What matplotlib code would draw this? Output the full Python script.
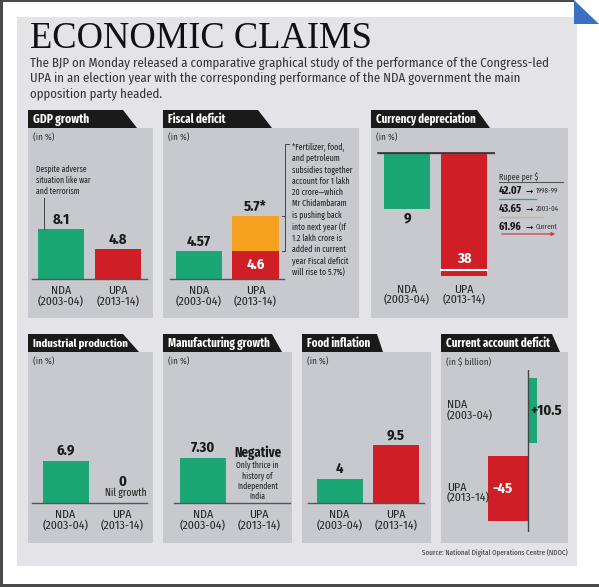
import numpy as np
import matplotlib.pyplot as plt
from matplotlib.patches import Rectangle, Polygon
from matplotlib.transforms import blended_transform_factory

plt.rcParams['font.family'] = ['Fira Sans Condensed', 'Roboto Condensed',
                               'PT Sans Narrow', 'DejaVu Sans']
NARROW = ['Fira Sans Extra Condensed', 'Asap Condensed', 'PT Sans Narrow',
          'Archivo Narrow', 'Barlow Condensed', 'Fira Sans Condensed',
          'DejaVu Sans']

# ---- data ----
parties = ['NDA', 'UPA']
years = ['(2003-04)', '(2013-14)']
gdp = [8.1, 4.8]
gdp_labels = ['8.1', '4.8']
fiscal = [4.57, 4.6]
fiscal_extra = [0, 5.7]          # subsidies pushed to next year
fiscal_labels = ['4.57', '4.6', '5.7*']
currency = [9, 38]
currency_labels = ['9', '38']
industrial = [6.9, 0]
industrial_labels = ['6.9', '0']
manufacturing = [7.30, np.nan]   # UPA: negative, not drawn
manufacturing_labels = ['7.30', 'Negative']
food = [4, 9.5]
food_labels = ['4', '9.5']
cad = [10.5, -45]
cad_labels = ['+10.5', '-45']
rupee_rates = ['42.07', '43.65', '61.96']
rupee_years = ['1998-99', '2003-04', 'Current']

GREEN = '#1ba676'
RED = '#d01e27'
ORANGE = '#f6a21e'
PANEL = '#c8c9cf'
OUTER = '#e3e3e8'
INK = '#1a1a1a'

W, H = 599, 587
fig = plt.figure(figsize=(W / 100, H / 100), dpi=100)
fig.patch.set_facecolor('white')
renderer = fig.canvas.get_renderer()


def fit(t, width):
    """scale a text so its widest line is `width` pixels, keeping line pitch"""
    bb = t.get_window_extent(renderer=renderer)
    k = width / bb.width
    ls = getattr(t, '_linespacing', 1.2)
    t.set_fontsize(t.get_fontsize() * k)
    t.set_linespacing(ls / k)
    return t


bg = fig.add_axes([0, 0, 1, 1])
bg.set_xlim(0, W)
bg.set_ylim(H, 0)
bg.axis('off')

# frame and background
bg.add_patch(Rectangle((17, 17), 560, 549, color=OUTER, lw=0))
bg.add_patch(Rectangle((0, 0), 2.5, H, color='#4a4a4a', lw=0))
bg.add_patch(Rectangle((0, 0), 574, 1.5, color='#4a4a4a', lw=0))
bg.add_patch(Rectangle((0, 584), W, 3, color='#4a4a4a', lw=0))
bg.add_patch(Polygon([(574, 0), (574, 24), (599, 24)], closed=True,
                     color='#3b6fc1', lw=0))

bg.text(30, 48.5, 'ECONOMIC CLAIMS', family='Liberation Serif', fontsize=26.3,
        color='#111', va='baseline')
bg.text(30, 57, 'The BJP on Monday released a comparative graphical study of the '
        'performance of the Congress-led\nUPA in an election year with the '
        'corresponding performance of the NDA government the main\n'
        'opposition party headed.', fontsize=9.2, color='#333', va='top',
        linespacing=1.22)


def panel(x0, x1, y0, y1, title, tr_top, tr_bot, tw, unit='(in %)'):
    bg.add_patch(Rectangle((x0, y0), x1 - x0, y1 - y0, color=PANEL, lw=0))
    bg.add_patch(Polygon([(x0, y0 - 18), (tr_top, y0 - 18), (tr_bot, y0),
                          (x0, y0)], closed=True, color=INK, lw=0))
    t = bg.text(x0 + 5, y0 - 8.5, title, color='white', fontsize=10,
                fontweight='bold', va='center', family=NARROW)
    fit(t, tw)
    bg.text(x0 + 5, y0 + 10, unit, color='#333', fontsize=6.5, va='center')


panel(28, 153, 128, 318, 'GDP growth', 123, 137, 56)
panel(163, 359, 128, 318, 'Fiscal deficit', 258, 272, 58)
panel(371, 568, 128, 318, 'Currency depreciation', 477, 490, 100)
panel(28, 153, 352, 543, 'Industrial production', 123, 139, 95)
panel(163, 292, 352, 543, 'Manufacturing growth', 272, 282, 102)
panel(302, 431, 352, 543, 'Food inflation', 377, 383, 64)
panel(441, 568, 352, 543, 'Current account deficit', 552, 560, 105,
      unit='(in $ billion)')

fit(bg.text(568, 553, 'Source: National Digital Operations Centre (NDOC)',
            fontsize=6, color='#333', ha='right', va='center', family=NARROW), 146)


def px_axes(x0, y0, x1, y1):
    ax = fig.add_axes([x0 / W, 1 - y1 / H, (x1 - x0) / W, (y1 - y0) / H])
    ax.patch.set_alpha(0)
    for s in ax.spines.values():
        s.set_visible(False)
    ax.set_yticks([])
    return ax


def bar_panel(x0, x1, base_y, top_y, centers, values, colors, ppu=6.15,
              inverted=False, pad=5):
    ax = px_axes(x0, top_y, x1, base_y)
    sp = centers[1] - centers[0]
    ax.set_xlim((x0 - centers[0]) / sp, 1 + (x1 - centers[1]) / sp)
    if inverted:
        ax.set_ylim((base_y - top_y) / ppu, 0)
    else:
        ax.set_ylim(0, (base_y - top_y) / ppu)
    w = 46 / sp
    ax.bar(range(2), values, width=w, color=colors)
    ax.axhline(0, color='#555', lw=1, clip_on=False)
    ax.set_xticks(range(2), [f'{p}\n{y}' for p, y in zip(parties, years)])
    ax.tick_params(length=0, pad=pad, labelsize=8.5, labelcolor='#222')
    for lbl in ax.get_xticklabels():
        lbl.set_linespacing(1.0)
    return ax, w


def value_labels(ax, values, texts, dy=7, color=INK):
    for i, (v, t) in enumerate(zip(values, texts)):
        ax.annotate(t, (i, v), xytext=(0, dy), textcoords='offset points',
                    ha='center', va='center', fontsize=10.5, fontweight='bold',
                    color=color)


# GDP growth
ax, w = bar_panel(32, 147, 279, 148, [61, 118], gdp, [GREEN, RED])
value_labels(ax, gdp, gdp_labels)
fit(ax.text(-0.44, (279 - 180) / 6.15, 'Despite adverse\nsituation like war\nand terrorism',
            fontsize=6.6, color='#222', va='center', ha='left', linespacing=1.2,
            family=NARROW), 54)
ax.plot([-0.3, -0.3], [gdp[0], (279 - 198) / 6.15], color='#444', lw=0.7)

# Fiscal deficit
ax, w = bar_panel(170, 284, 279, 148, [199, 255.5], fiscal, [GREEN, RED], ppu=6.1)
ax.bar(range(2), fiscal_extra, bottom=fiscal, width=w, color=ORANGE)
ax.annotate(fiscal_labels[0], (0, fiscal[0]), xytext=(0, 7),
            textcoords='offset points', ha='center', va='center', fontsize=10.5,
            fontweight='bold', color=INK)
ax.annotate(fiscal_labels[1], (1, fiscal[1] / 2), ha='center', va='center',
            fontsize=10.5, fontweight='bold', color='white')
ax.annotate(fiscal_labels[2], (1, fiscal[1] + fiscal_extra[1]), xytext=(0, 7),
            textcoords='offset points', ha='center', va='center', fontsize=10.5,
            fontweight='bold', color=INK)
xb = 1 + w / 2 + 0.12
top = fiscal[1] + fiscal_extra[1]
ax.plot([xb - 0.06, xb, xb, xb - 0.06], [top, top, fiscal[1], fiscal[1]],
        color='#444', lw=0.7, clip_on=False)
ax.plot([xb, xb, xb + 0.06], [top, (279 - 144) / 6.1, (279 - 144) / 6.1],
        color='#444', lw=0.7, clip_on=False)
fit(bg.text(292, 143, '*Fertilizer, food,\nand petroleum\nsubsidies together\n'
            'account for 1 lakh\n20 crore\u2014which\nMr Chidambaram\n'
            'is pushing back\ninto next year (If\n1.2 lakh crore is\n'
            'added in current\nyear Fiscal deficit\nwill rise to 5.7%)',
            fontsize=6.6, color='#222', va='top', linespacing=1.22,
            family=NARROW), 60)

# Currency depreciation (bars hang from the top line, UPA bar is broken)
ax, w = bar_panel(378, 494, 276, 153, [407, 464], currency, [GREEN, RED],
                  ppu=6.2, inverted=True, pad=6)
ax.axhline(0, color='#333', lw=1.2, clip_on=False)
ax.plot([1 - w / 2, 1 + w / 2], [18.9, 18.9], color='white', lw=1.5)
ax.annotate(currency_labels[0], (0, currency[0]), xytext=(0, -7),
            textcoords='offset points', ha='center', va='center', fontsize=10.5,
            fontweight='bold', color=INK)
ax.annotate(currency_labels[1], (1, 17.1), ha='center', va='center',
            fontsize=10.5, fontweight='bold', color='white')

fit(bg.text(499, 176, 'Rupee per $', fontsize=7, color='#333', va='center',
            family=NARROW), 39)
bg.plot([499, 563], [181.5, 181.5], color='#555', lw=0.8)
rupee_colors = ['#3a9f8c', '#d4b068', '#c2414c']
rupee_ends = [536, 543, 558]
for i, (r, yr) in enumerate(zip(rupee_rates, rupee_years)):
    yy = 191 + i * 18
    fit(bg.text(499, yy, r, fontsize=8, fontweight='bold', color=INK,
                va='center', family=NARROW), 23)
    bg.text(529, yy, '\u279e', fontsize=6.5, family='DejaVu Sans', color=INK,
            va='center', ha='center')
    t = bg.text(536, yy, yr, fontsize=7, color='#333', va='center', family=NARROW)
    if i < 2:
        fit(t, 23)
        bg.plot([499, rupee_ends[i]], [yy + 8, yy + 8], color=rupee_colors[i], lw=0.9)
    else:
        fit(t, 22)
        bg.annotate('', xy=(rupee_ends[i], yy + 7), xytext=(499, yy + 7),
                    arrowprops=dict(arrowstyle='-|>', color=rupee_colors[i],
                                    lw=0.9, mutation_scale=5))

# Industrial production
ax, w = bar_panel(32, 147, 503, 372, [65.5, 122], industrial, [GREEN, RED])
value_labels(ax, industrial[:1], industrial_labels[:1], dy=7.2)
ax.annotate(industrial_labels[1], (1, industrial[1]), xytext=(0, 15),
            textcoords='offset points', ha='center', va='center', fontsize=10.5,
            fontweight='bold', color=INK)
fit(ax.annotate('Nil growth', (1, industrial[1]), xytext=(3, 7),
                textcoords='offset points', ha='center', va='center', fontsize=7,
                color='#222', family=NARROW), 42)

# Manufacturing growth
ax, w = bar_panel(174, 290, 503, 372, [203, 259], manufacturing, [GREEN, RED])
value_labels(ax, manufacturing[:1], manufacturing_labels[:1], dy=7.2)
fit(ax.annotate(manufacturing_labels[1], (1, 0), xytext=(-1, 36),
                textcoords='offset points', ha='center', va='center', fontsize=10.5,
                fontweight='bold', color=INK, family=NARROW), 47)
fit(ax.annotate('Only thrice in\nhistory of\nIndependent\nIndia', (1, 0),
                xytext=(-1, 16), textcoords='offset points', ha='center',
                va='center', fontsize=6.3, color='#222', linespacing=1.15,
                family=NARROW), 43)

# Food inflation
ax, w = bar_panel(308, 424, 503, 372, [339.5, 396], food, [GREEN, RED], ppu=6.1)
value_labels(ax, food, food_labels, dy=6.8)

# Current account deficit (horizontal bars)
ppu = 0.88
ax = px_axes(445, 370, 565, 532)
ax.set_xlim(-(528 - 445) / ppu, (565 - 528) / ppu)
ax.set_ylim(1 + (532 - 488.5) / 78, -(410.5 - 370) / 78)
ax.barh(range(2), cad, height=65 / 78, color=[GREEN, RED])
ax.axvline(0, color='#444', lw=1)
ax.set_xticks([])
ax.annotate(cad_labels[0], (0, 0), xytext=(2, 0), textcoords='offset points',
            ha='left', va='center', fontsize=10.5, fontweight='bold', color=INK)
ax.annotate(cad_labels[1], (cad[1] / 2, 1), xytext=(-4, 0),
            textcoords='offset points', ha='center', va='center', fontsize=10.5,
            fontweight='bold', color='white')
tr = blended_transform_factory(ax.transAxes, ax.transData)
for i, (p, y) in enumerate(zip(parties, years)):
    ax.text(0.017, i + 0.06 * i, f'{p}\n{y}', transform=tr, fontsize=8.5,
            color='#222', va='center', ha='left', linespacing=1.0)

fig.savefig('out.png', dpi=100, facecolor='white')
